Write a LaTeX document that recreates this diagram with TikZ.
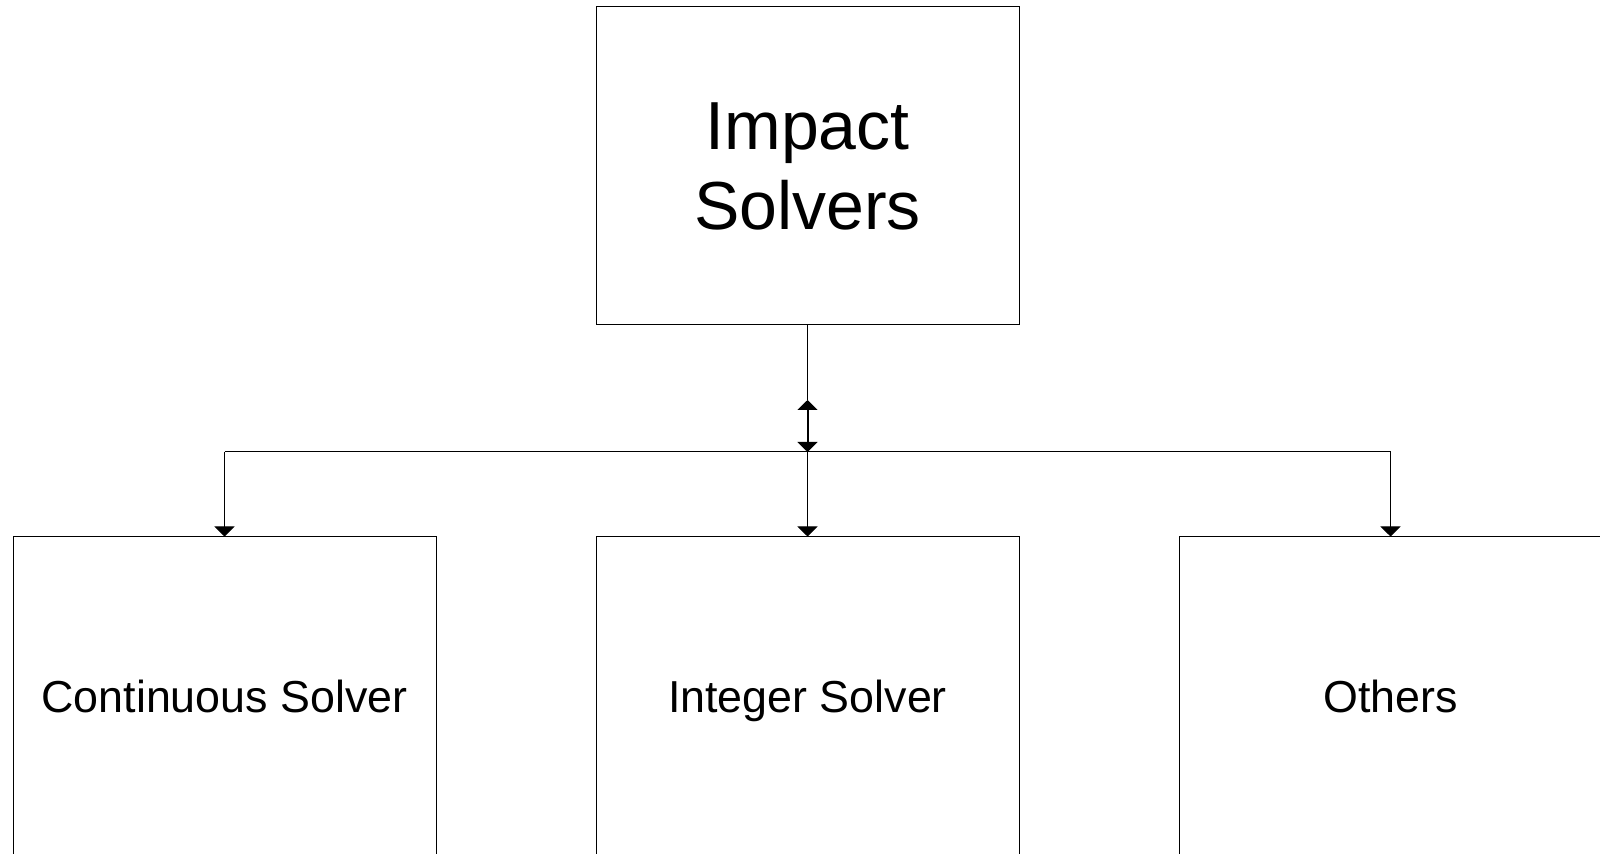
\documentclass[tikz,border=0pt]{standalone}
\usepackage{fontspec}
\setmainfont{Liberation Sans}
\usetikzlibrary{arrows.meta}

\begin{document}
\begin{tikzpicture}[x=0.5pt,y=-0.5pt,
  box/.style={draw,line width=0.5pt,minimum width=211.5pt,minimum height=159pt,inner sep=0pt,align=center},
  sub/.style={box,font=\fontsize{22.4}{27}\selectfont,text height=16.5pt,text depth=0pt},
  tip/.style={-{Triangle[width=10pt,length=5pt]}}]
\clip (0,0) rectangle (1600,854);
\node[box,font=\fontsize{34}{40}\selectfont] (IS) at (807.5,166) {Impact\\Solvers};
\node[sub] (CS) at (224.5,696) {Continuous Solver};
\node[sub] (IntS) at (807.5,696) {Integer Solver};
\node[sub] (OS) at (1390.5,696) {Others};

\coordinate (J) at (807.5,400);
\coordinate (B) at (807.5,452);
\coordinate (BL) at (224.5,452);
\coordinate (BR) at (1390.5,452);

\path[line width=0.5pt] (IS) edge (J) (BL) edge (BR);
\path[line width=1pt,{Triangle[width=10pt,length=5pt]}-{Triangle[width=10pt,length=5pt]}] (J) edge (B);
\path[line width=0.5pt,tip] (BL) edge (CS) (B) edge (IntS) (BR) edge (OS);
\end{tikzpicture}
\end{document}
